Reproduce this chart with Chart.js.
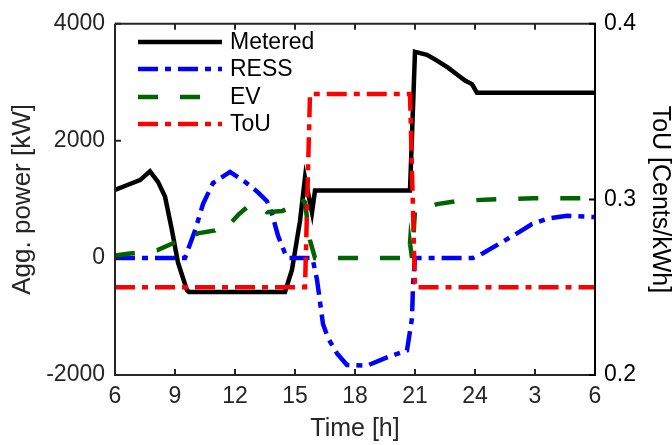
<!DOCTYPE html>
<html lang="en">
<head>
  <meta charset="UTF-8">
  <title>Aggregated power and ToU</title>
  <script src="https://cdn.jsdelivr.net/npm/chart.js"></script>
  <style>
    body { margin: 0; background: white; }
    canvas { display: block; }
  </style>
</head>
<body>
  <canvas id="powerChart" width="672" height="445"></canvas>

  <script>
    // time in hours (6 -> 30, i.e. 6 am to 6 am next day)
    const meteredT  = [6, 6.65, 7.25, 7.75, 8.15, 8.5, 8.85, 9.15, 9.6, 9.7, 14.5, 14.85, 15.25, 15.5, 15.85, 16.0, 20.75, 21.0, 21.6, 22.1, 22.65, 23.15, 23.5, 23.85, 24.1, 30];
    const meteredKW = [1160, 1250, 1330, 1480, 1300, 1050, 470, -80, -550, -580, -580, -200, 630, 1370, 780, 1150, 1150, 3520, 3470, 3370, 3250, 3120, 3030, 2970, 2820, 2820];

    const ressT  = [6, 9.5, 10.0, 10.4, 10.9, 11.35, 11.75, 12.5, 13.15, 13.6, 13.85, 14.15, 14.5, 14.65, 15.85, 15.9, 16.1, 16.25, 16.4, 16.65, 17.1, 17.6, 18.6, 19.6, 20.6, 20.85, 20.9, 21.0, 23.9, 24.4, 25.25, 26.1, 26.85, 27.6, 28.6, 29.9, 30];
    const ressKW = [0, 0, 470, 920, 1280, 1380, 1470, 1300, 1120, 970, 750, 380, 80, 0, 0, -50, -370, -750, -1130, -1370, -1630, -1830, -1840, -1700, -1580, -1030, -470, 0, 0, 80, 250, 420, 580, 670, 720, 700, 700];

    const evT  = [6, 6.65, 8.1, 8.9, 9.5, 10.15, 11.0, 11.5, 11.75, 12.2, 12.65, 13.35, 13.6, 14.35, 14.9, 15.25, 15.5, 15.75, 16.0, 20.7, 20.75, 20.85, 21.0, 22.1, 23.1, 24.75, 26.9, 30];
    const evKW = [40, 70, 130, 250, 330, 420, 470, 620, 580, 750, 880, 870, 780, 800, 880, 1030, 950, 300, 0, 0, 250, 0, 800, 920, 970, 1000, 1020, 1020];

    const touT   = [6, 15.5, 15.75, 20.75, 21.0, 30];
    const touVal = [0.25, 0.25, 0.36, 0.36, 0.25, 0.25];

    const timeTicks = [6, 9, 12, 15, 18, 21, 24, 27, 30];
    const powerTicks = [-2000, 0, 2000, 4000];
    const touTicks = [0.2, 0.3, 0.4];

    const FONT = "'Liberation Sans', Arial, sans-serif";
    const AXIS = '#262626';

    function pts(t, v) { return t.map((x, i) => ({ x: x, y: v[i] })); }

    // MATLAB-like box with inward ticks and a legend inside the axes
    const boxPlugin = {
      id: 'box',
      afterDraw(chart) {
        const ctx = chart.ctx;
        const a = chart.chartArea;
        const sx = chart.scales.x, sy = chart.scales.y, sy1 = chart.scales.y1;
        const tl = 6;
        ctx.save();
        ctx.lineWidth = 2;
        ctx.strokeStyle = AXIS;
        ctx.beginPath();
        timeTicks.forEach(v => {
          const px = sx.getPixelForValue(v);
          ctx.moveTo(px, a.bottom); ctx.lineTo(px, a.bottom - tl);
          ctx.moveTo(px, a.top); ctx.lineTo(px, a.top + tl);
        });
        powerTicks.forEach(v => {
          const py = sy.getPixelForValue(v);
          ctx.moveTo(a.left, py); ctx.lineTo(a.left + tl, py);
        });
        ctx.stroke();
        ctx.beginPath();
        ctx.moveTo(a.left, a.top); ctx.lineTo(a.right, a.top);
        ctx.moveTo(a.left, a.top); ctx.lineTo(a.left, a.bottom);
        ctx.lineTo(a.right, a.bottom);
        ctx.stroke();
        ctx.strokeStyle = '#000';
        ctx.beginPath();
        ctx.moveTo(a.right, a.top - 1); ctx.lineTo(a.right, a.bottom + 1);
        touTicks.forEach(v => {
          const py = sy1.getPixelForValue(v);
          ctx.moveTo(a.right, py); ctx.lineTo(a.right - tl, py);
        });
        ctx.stroke();

        // legend
        const rows = [42, 69, 97, 124];
        ctx.font = '23px ' + FONT;
        ctx.textBaseline = 'middle';
        ctx.textAlign = 'left';
        chart.data.datasets.forEach((ds, i) => {
          const y = rows[i];
          ctx.strokeStyle = ds.borderColor;
          ctx.lineWidth = ds.borderWidth;
          ctx.setLineDash(ds.borderDash || []);
          ctx.beginPath();
          ctx.moveTo(138, y); ctx.lineTo(222, y);
          ctx.stroke();
          ctx.setLineDash([]);
          ctx.fillStyle = '#000';
          ctx.fillText(ds.label, 230, y + 1);
        });
        ctx.restore();
      }
    };

    new Chart(document.getElementById('powerChart'), {
      type: 'scatter',
      data: {
        datasets: [
          { label: 'Metered', data: pts(meteredT, meteredKW), yAxisID: 'y', borderColor: '#000000', borderWidth: 4.5, order: 4 },
          { label: 'RESS', data: pts(ressT, ressKW), yAxisID: 'y', borderColor: '#0000ff', borderWidth: 4.5, borderDash: [20, 7, 6, 7], order: 3 },
          { label: 'EV', data: pts(evT, evKW), yAxisID: 'y', borderColor: '#006400', borderWidth: 4.5, borderDash: [20, 22], order: 2 },
          { label: 'ToU', data: pts(touT, touVal), yAxisID: 'y1', borderColor: '#ff0000', borderWidth: 4.5, borderDash: [20, 7, 6, 7], order: 1 }
        ].map(d => Object.assign(d, { showLine: true, pointRadius: 0, fill: false, tension: 0 }))
      },
      options: {
        responsive: false,
        animation: false,
        layout: { padding: { top: 15, left: 0, right: 0, bottom: 0 } },
        plugins: { legend: { display: false }, tooltip: { enabled: false } },
        scales: {
          x: {
            type: 'linear', min: 6, max: 30,
            afterFit(s) { s.height = 70; },
            afterBuildTicks(s) { s.ticks = timeTicks.map(v => ({ value: v })); },
            grid: { display: false, drawTicks: false },
            border: { display: false },
            ticks: {
              padding: 8, color: AXIS, font: { family: FONT, size: 23 },
              callback: v => String(v > 24 ? v - 24 : v)
            },
            title: { display: true, text: 'Time [h]', color: AXIS, font: { family: FONT, size: 25, lineHeight: 1 }, padding: { top: 3, bottom: 3 } }
          },
          y: {
            position: 'left', min: -2000, max: 4000,
            afterFit(s) { s.width = 115; },
            afterBuildTicks(s) { s.ticks = powerTicks.map(v => ({ value: v })); },
            grid: { display: false, drawTicks: false },
            border: { display: false },
            ticks: { padding: 10, color: AXIS, font: { family: FONT, size: 23 }, callback: v => String(v) },
            title: { display: true, text: 'Agg. power [kW]', color: AXIS, font: { family: FONT, size: 26, lineHeight: 1 }, padding: { top: 10, bottom: 0 } }
          },
          y1: {
            position: 'right', min: 0.2, max: 0.4,
            afterFit(s) { s.width = 77; },
            afterBuildTicks(s) { s.ticks = touTicks.map(v => ({ value: v })); },
            grid: { display: false, drawTicks: false },
            border: { display: false },
            ticks: { padding: 9, color: '#000', font: { family: FONT, size: 23 }, callback: v => v.toFixed(1) },
            title: { display: true, text: 'ToU [Cents/kWh]', color: '#000', font: { family: FONT, size: 25, lineHeight: 1 }, padding: { top: 0, bottom: 0 } }
          }
        }
      },
      plugins: [boxPlugin]
    });
  </script>
</body>
</html>
